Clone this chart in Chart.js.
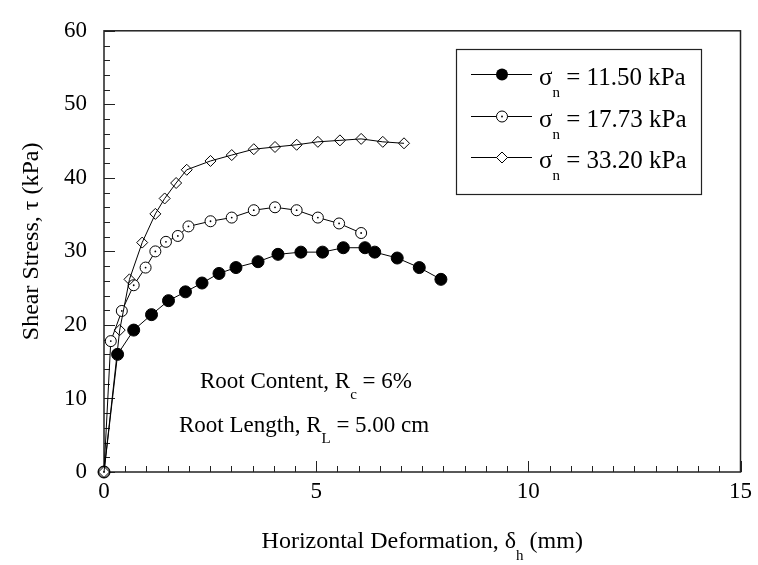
<!DOCTYPE html>
<html><head><meta charset="utf-8">
<script src="https://cdn.jsdelivr.net/npm/chart.js@4"></script>
<style>html,body{margin:0;padding:0;background:#fff}#wrap{width:758px;height:565px}</style>
</head><body><div id="wrap"><canvas id="c" width="758" height="565"></canvas></div>
<script>
// ---- data ----
const xTickLabels = [0, 5, 10, 15];
const yTickLabels = [0, 10, 20, 30, 40, 50, 60];
const seriesNames = ['11.50 kPa', '17.73 kPa', '33.20 kPa'];

const x1 = [0, 0.32, 0.70, 1.12, 1.52, 1.92, 2.31, 2.71, 3.11, 3.63, 4.10, 4.64, 5.15, 5.64, 6.15, 6.38, 6.91, 7.43, 7.94];
const y1 = [0, 16.0, 19.3, 21.4, 23.3, 24.5, 25.7, 27.0, 27.8, 28.6, 29.6, 29.9, 29.9, 30.5, 30.5, 29.9, 29.1, 27.8, 26.2];

const x2 = [0, 0.16, 0.42, 0.70, 0.98, 1.21, 1.46, 1.74, 1.99, 2.51, 3.01, 3.53, 4.03, 4.54, 5.04, 5.54, 6.06];
const y2 = [0, 17.8, 21.9, 25.4, 27.8, 30.0, 31.3, 32.1, 33.4, 34.1, 34.6, 35.6, 36.0, 35.6, 34.6, 33.8, 32.5];

const x3 = [0, 0.37, 0.60, 0.90, 1.21, 1.43, 1.70, 1.95, 2.51, 3.01, 3.53, 4.03, 4.54, 5.04, 5.56, 6.06, 6.57, 7.07];
const y3 = [0, 19.3, 26.2, 31.2, 35.1, 37.2, 39.3, 41.1, 42.3, 43.1, 43.9, 44.2, 44.5, 44.9, 45.1, 45.3, 44.9, 44.7];

// ---- helpers ----
const FONT = '"Liberation Serif", "Times New Roman", serif';
const toPts = (xs, ys) => xs.map((x, i) => ({x: x, y: ys[i]}));

function drawSubText(ctx, x, y, main, sub, rest, size, subSize) {
  ctx.font = size + 'px ' + FONT;
  ctx.fillText(main, x, y);
  let w = ctx.measureText(main).width;
  ctx.font = subSize + 'px ' + FONT;
  ctx.fillText(sub, x + w, y + Math.round(size * 0.48));
  w += ctx.measureText(sub).width;
  ctx.font = size + 'px ' + FONT;
  ctx.fillText(rest, x + w, y);
  return w + ctx.measureText(rest).width;
}

const decorPlugin = {
  id: 'decor',
  beforeDatasetsDraw(chart) {
    const ctx = chart.ctx, a = chart.chartArea;
    const xs = chart.scales.x, ys = chart.scales.y;
    ctx.save();
    ctx.strokeStyle = '#222';
    ctx.lineWidth = 1;
    for (let v = 0; v <= 15.001; v += 0.5) {
      const px = Math.round(xs.getPixelForValue(v)) + 0.5;
      const len = (Math.abs(v % 5) < 1e-6) ? 11 : 6;
      ctx.beginPath(); ctx.moveTo(px, a.bottom); ctx.lineTo(px, a.bottom - len); ctx.stroke();
    }
    for (let v = 0; v <= 60.001; v += 2) {
      const py = Math.round(ys.getPixelForValue(v)) + 0.5;
      const len = (Math.abs(v % 10) < 1e-6) ? 11 : 6;
      ctx.beginPath(); ctx.moveTo(a.left, py); ctx.lineTo(a.left + len, py); ctx.stroke();
    }
    ctx.lineWidth = 1.5;
    ctx.strokeStyle = '#222';
    ctx.strokeRect(a.left, a.top, a.right - a.left, a.bottom - a.top);
    ctx.restore();
  },
  afterDatasetsDraw(chart) {
    // centre dots of the open circles
    const ctx = chart.ctx;
    const meta = chart.getDatasetMeta(1);
    ctx.save();
    ctx.fillStyle = '#000';
    meta.data.forEach(p => {
      ctx.beginPath(); ctx.arc(p.x, p.y, 0.9, 0, Math.PI * 2); ctx.fill();
    });
    ctx.restore();
  },
  afterDraw(chart) {
    const ctx = chart.ctx, a = chart.chartArea;
    ctx.save();
    ctx.fillStyle = '#000';
    ctx.textBaseline = 'alphabetic';
    ctx.textAlign = 'left';

    // legend box
    const L = {x: 456, y: 49, w: 245, h: 145};
    ctx.lineWidth = 1.2; ctx.strokeStyle = '#222';
    ctx.strokeRect(L.x + 0.5, L.y + 0.5, L.w, L.h);
    const rowsY = [74, 116, 157];
    rowsY.forEach((ry, i) => {
      const yy = ry + 0.5;
      ctx.lineWidth = 1; ctx.strokeStyle = '#000';
      ctx.beginPath(); ctx.moveTo(471, yy); ctx.lineTo(532, yy); ctx.stroke();
      if (i === 0) {
        ctx.beginPath(); ctx.arc(502, yy, 6, 0, Math.PI * 2); ctx.fillStyle = '#000'; ctx.fill();
      } else if (i === 1) {
        ctx.beginPath(); ctx.arc(502, yy, 5.5, 0, Math.PI * 2);
        ctx.fillStyle = '#fff'; ctx.fill(); ctx.stroke();
        ctx.beginPath(); ctx.arc(502, yy, 0.9, 0, Math.PI * 2); ctx.fillStyle = '#000'; ctx.fill();
      } else {
        const r = 5.5;
        ctx.beginPath();
        ctx.moveTo(502 - r, yy); ctx.lineTo(502, yy - r);
        ctx.lineTo(502 + r, yy); ctx.lineTo(502, yy + r); ctx.closePath();
        ctx.fillStyle = '#fff'; ctx.fill(); ctx.stroke();
      }
      ctx.fillStyle = '#000';
      drawSubText(ctx, 539, ry + 11, '\u03C3', 'n', ' = ' + seriesNames[i], 25, 15);
    });

    // annotations
    drawSubText(ctx, 200, 388, 'Root Content, R', 'c', ' = 6%', 23, 15);
    drawSubText(ctx, 179, 432, 'Root Length, R', 'L', ' = 5.00 cm', 23, 15);

    // x axis title (centered)
    ctx.font = '24px ' + FONT;
    const m1 = 'Horizontal Deformation, \u03B4', s1 = 'h', r1 = ' (mm)';
    let w = ctx.measureText(m1).width + ctx.measureText(r1).width;
    ctx.font = '15px ' + FONT; w += ctx.measureText(s1).width;
    const cx = (a.left + a.right) / 2;
    drawSubText(ctx, cx - w / 2, 548, m1, s1, r1, 24, 15);

    // y axis title (rotated)
    ctx.translate(38, (a.top + a.bottom) / 2 - 10);
    ctx.rotate(-Math.PI / 2);
    ctx.textAlign = 'center';
    ctx.font = '24px ' + FONT;
    ctx.fillText('Shear Stress, \u03C4 (kPa)', 0, 0);
    ctx.restore();
  }
};

const ctx = document.getElementById('c').getContext('2d');
new Chart(ctx, {
  type: 'scatter',
  data: {
    datasets: [
      {
        label: seriesNames[0], data: toPts(x1, y1), showLine: true,
        borderColor: '#000', borderWidth: 1, pointStyle: 'circle', pointRadius: 6,
        pointBackgroundColor: '#000', pointBorderColor: '#000', pointBorderWidth: 1,
        clip: false, order: 3
      },
      {
        label: seriesNames[1], data: toPts(x2, y2), showLine: true,
        borderColor: '#000', borderWidth: 1, pointStyle: 'circle', pointRadius: 5.5,
        pointBackgroundColor: '#fff', pointBorderColor: '#000', pointBorderWidth: 1,
        clip: false, order: 2
      },
      {
        label: seriesNames[2], data: toPts(x3, y3), showLine: true,
        borderColor: '#000', borderWidth: 1, pointStyle: 'rectRot', pointRadius: 5.5,
        pointBackgroundColor: 'rgba(255,255,255,0)', pointBorderColor: '#000', pointBorderWidth: 1,
        clip: false, order: 1
      }
    ]
  },
  options: {
    responsive: false, animation: false, devicePixelRatio: 1,
    layout: {padding: {left: 0, right: 15, top: 21, bottom: 0}},
    plugins: {legend: {display: false}, tooltip: {enabled: false}},
    scales: {
      x: {
        type: 'linear', min: 0, max: 15,
        afterBuildTicks: s => { s.ticks = xTickLabels.map(v => ({value: v})); },
        afterFit: s => { s.height = 93; },
        grid: {display: false, drawTicks: false, tickLength: 0},
        border: {display: false},
        ticks: {color: '#000', font: {family: FONT, size: 23}, padding: 6, maxRotation: 0, autoSkip: false}
      },
      y: {
        type: 'linear', min: 0, max: 60,
        afterBuildTicks: s => { s.ticks = yTickLabels.map(v => ({value: v})); },
        afterFit: s => { s.width = 104; },
        grid: {display: false, drawTicks: false, tickLength: 0},
        border: {display: false},
        ticks: {color: '#000', font: {family: FONT, size: 23}, padding: 17, autoSkip: false}
      }
    }
  },
  plugins: [decorPlugin]
});
</script>
</body></html>
